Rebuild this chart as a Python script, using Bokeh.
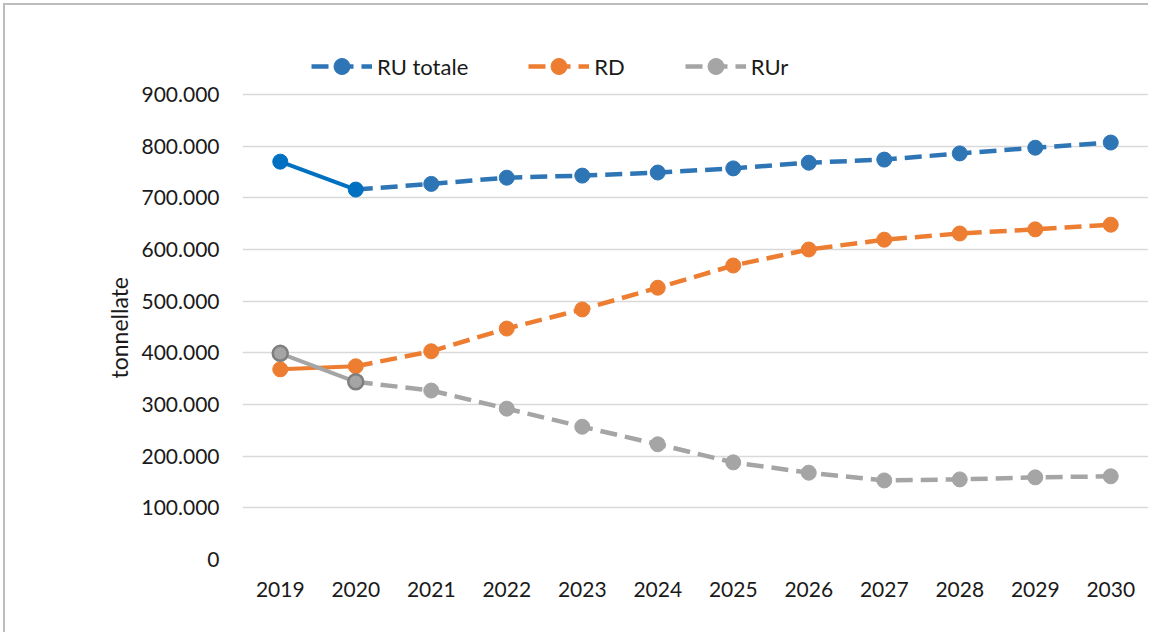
from bokeh.plotting import figure
from bokeh.models import (Range1d, FactorRange, FixedTicker, CustomJSTickFormatter,
                          Legend, LegendItem, Title)
from bokeh.embed import file_html
from bokeh.resources import INLINE

# Waste quantities (tonnes), observed 2019-2020 and projected to 2030
years = ["2019", "2020", "2021", "2022", "2023", "2024",
         "2025", "2026", "2027", "2028", "2029", "2030"]
ru_totale = [770000, 716000, 727000, 739000, 743000, 749000,
             757000, 768000, 774000, 786000, 797000, 807000]
rd = [368000, 374000, 403000, 447000, 484000, 526000,
      569000, 600000, 619000, 631000, 639000, 648000]
rur = [399000, 344000, 327000, 292000, 257000, 223000,
       188000, 168000, 153000, 155000, 159000, 161000]
series_names = ["RU totale", "RD", "RUr"]
y_ticks = [0, 100000, 200000, 300000, 400000, 500000,
           600000, 700000, 800000, 900000]

N_OBS = 2  # number of observed years; projections start from the last one

FONT = "Lato"
TEXT = "#1a1a1a"

# The plotting frame is extended above the top gridline so the legend can sit
# inside it; PLOT_PX is the height of the gridded part, LEGEND_PX the strip above.
PLOT_PX, LEGEND_PX = 465, 50
y_top = y_ticks[-1] * (PLOT_PX + LEGEND_PX) / PLOT_PX

p = figure(width=1145, height=629, output_backend="svg", toolbar_location=None,
           x_range=FactorRange(*years, range_padding=0),
           y_range=Range1d(0, y_top),
           min_border_left=237, min_border_right=2,
           min_border_top=39, min_border_bottom=75)
p.outline_line_color = None
p.background_fill_color = "white"
p.border_fill_color = "white"
# thin frame round the whole chart
p.styles = {"border-left": "2px solid #BDBDBD", "border-top": "2px solid #BDBDBD",
            "margin-left": "3px", "margin-top": "3px"}

# (projection colour, observed line colour, observed marker fill,
#  observed marker outline, observed marker outline width)
styles = [
    ("#2E75B6", "#0070C0", "#0070C0", "#0070C0", 1),
    ("#ED7D31", "#ED7D31", "#ED7D31", "#ED7D31", 1),
    ("#A5A5A5", "#A5A5A5", "#A5A5A5", "#7F7F7F", 2.5),
]

legend_items = []
for name, vals, (pc, hc, mf, ml, mlw) in zip(series_names, [ru_totale, rd, rur], styles):
    proj_line = p.line(years[N_OBS - 1:], vals[N_OBS - 1:], line_color=pc,
                       line_width=4.5, line_dash="17 8")
    proj_pts = p.scatter(years[N_OBS:], vals[N_OBS:], size=15,
                         fill_color=pc, line_color=pc)
    p.line(years[:N_OBS], vals[:N_OBS], line_color=hc, line_width=4)
    p.scatter(years[:N_OBS], vals[:N_OBS], size=15, fill_color=mf,
              line_color=ml, line_width=mlw)
    legend_items.append(LegendItem(label=name, renderers=[proj_line, proj_pts]))

# axes
p.yaxis.ticker = FixedTicker(ticks=y_ticks)
p.yaxis.formatter = CustomJSTickFormatter(code="""
    return tick.toFixed(0).replace(/\\B(?=(\\d{3})+(?!\\d))/g, ".");
""")
for ax in (p.xaxis[0], p.yaxis[0]):
    ax.axis_line_color = None
    ax.major_tick_line_color = None
    ax.minor_tick_line_color = None
    ax.major_tick_out = 0
    ax.major_tick_in = 0
    ax.major_label_text_font = FONT
    ax.major_label_text_font_size = "21px"
    ax.major_label_text_color = TEXT
p.yaxis.major_label_standoff = 23
p.xaxis.major_label_standoff = 22

# y axis title, centred on the gridded part of the frame (anchored at its start)
p.add_layout(Title(text="tonnellate", align="left", offset=181,
                   text_font=FONT, text_font_size="23px", text_font_style="normal",
                   text_color=TEXT, standoff=12), "left")

p.xgrid.grid_line_color = None
p.ygrid.ticker = FixedTicker(ticks=y_ticks)
p.ygrid.grid_line_color = "#D9D9D9"
p.ygrid.grid_line_width = 1.5

legend = Legend(items=legend_items, orientation="horizontal",
                location=(69, PLOT_PX + 8), padding=0, margin=0, spacing=60,
                glyph_width=61, glyph_height=40, label_height=20,
                label_standoff=5, label_text_font=FONT,
                label_text_font_size="22px", label_text_color=TEXT,
                border_line_color=None, background_fill_alpha=0)
p.add_layout(legend, "center")

open("out.html", "w").write(file_html(p, INLINE))
